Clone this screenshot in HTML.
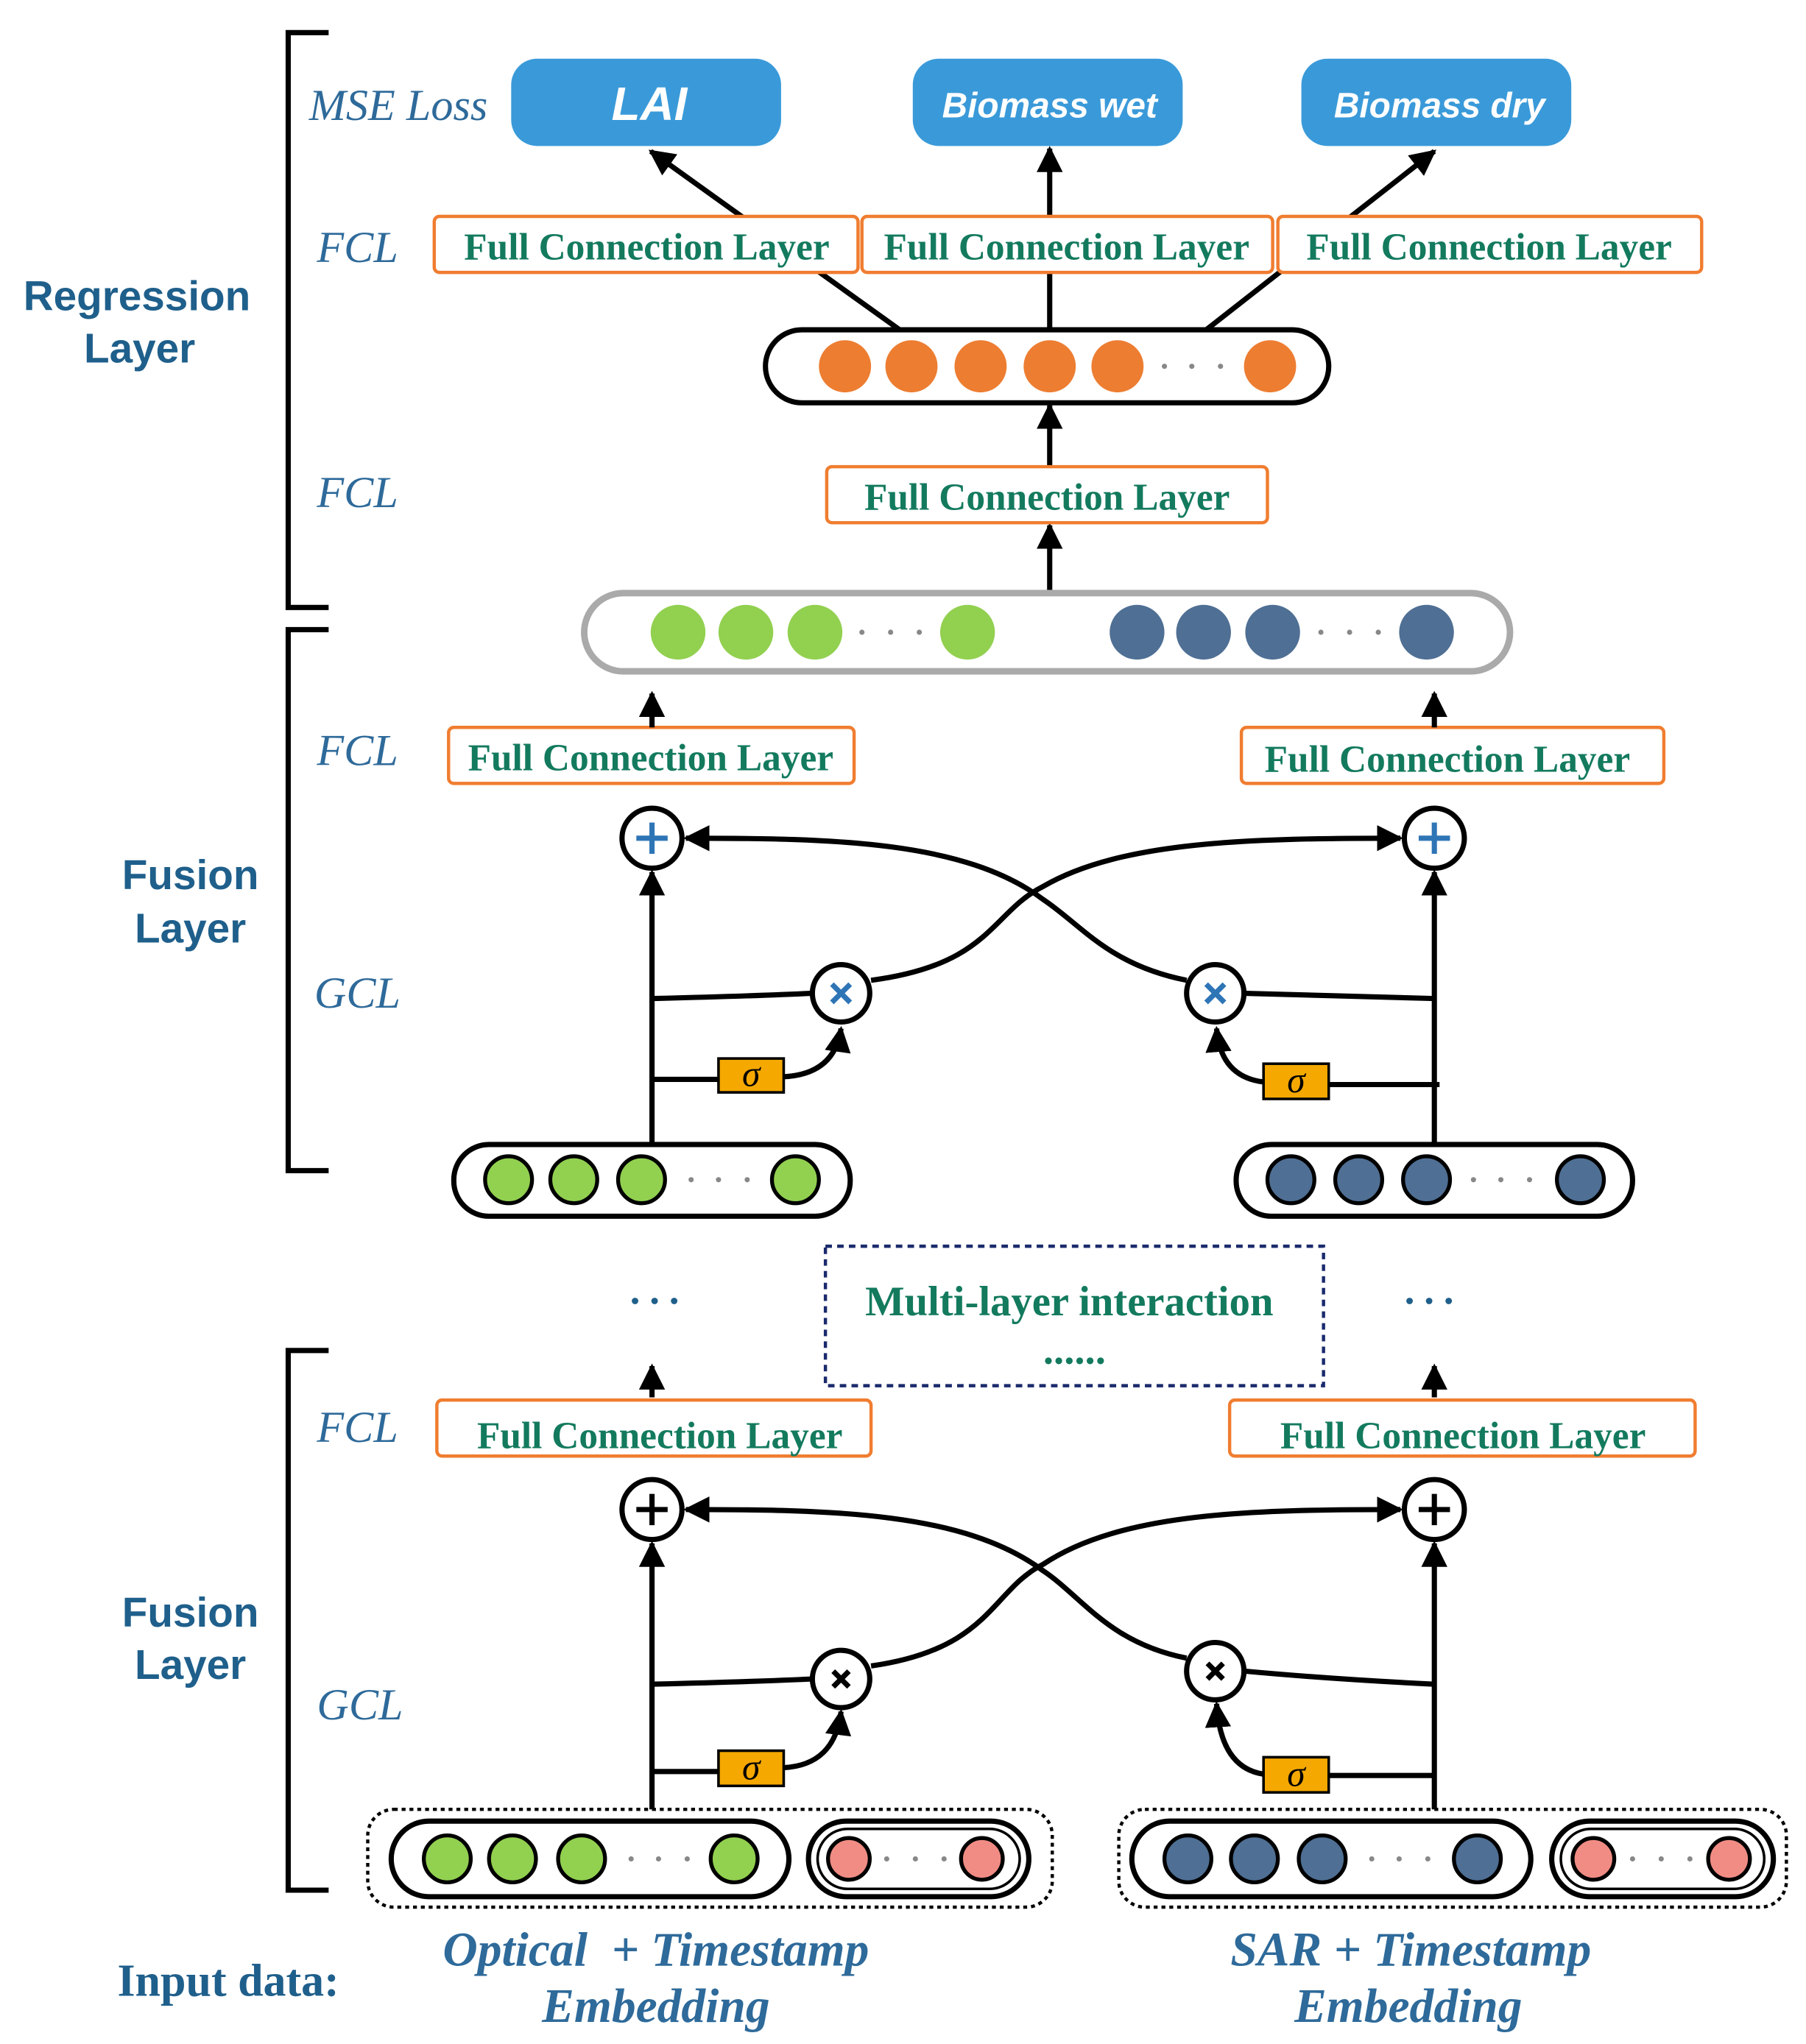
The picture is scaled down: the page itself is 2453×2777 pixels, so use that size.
<!DOCTYPE html>
<html><head><meta charset="utf-8"><style>html,body{margin:0;padding:0;background:#fff}svg{display:block}</style></head>
<body>
<svg width="2453" height="2777" viewBox="0 0 1385 1568" xmlns="http://www.w3.org/2000/svg">
<defs>
<marker id="ah" viewBox="0 0 10 10" refX="9" refY="5" markerWidth="5" markerHeight="5" orient="auto-start-reverse"><path d="M0,0 L10,5 L0,10 z" fill="#000"/></marker>
</defs>
<rect width="1385" height="1568" fill="#fff"/>
<g fill="none" stroke="#000" stroke-width="4">
<path d="M252,25 H221 V466 H252"/>
<path d="M252,483 H221 V898 H252"/>
<path d="M252,1036 H221 V1450 H252"/>
</g>
<g font-family="Liberation Sans, sans-serif" font-weight="bold" font-size="32" fill="#1f5f8b" text-anchor="middle">
<text x="105" y="238">Regression</text><text x="107" y="278">Layer</text>
<text x="146" y="682">Fusion</text><text x="146" y="723">Layer</text>
<text x="146" y="1248">Fusion</text><text x="146" y="1288">Layer</text>
</g>
<g font-family="Liberation Serif, serif" font-style="italic" font-size="34" fill="#2e6a9a">
<text x="237" y="92">MSE Loss</text>
<text x="243" y="201">FCL</text><text x="243" y="389">FCL</text><text x="243" y="587">FCL</text>
<text x="241" y="773">GCL</text><text x="243" y="1106">FCL</text><text x="243" y="1319">GCL</text>
</g>
<g stroke="#000" stroke-width="4" fill="none">
<line x1="690" y1="253" x2="499" y2="116" marker-end="url(#ah)"/>
<line x1="805" y1="253" x2="805" y2="114" marker-end="url(#ah)"/>
<line x1="925" y1="253" x2="1100" y2="116" marker-end="url(#ah)"/>
<line x1="805" y1="358" x2="805" y2="311" marker-end="url(#ah)"/>
<line x1="805" y1="455" x2="805" y2="403" marker-end="url(#ah)"/>
</g>
<g fill="#3a9ad9">
<rect x="392" y="45" width="207" height="67" rx="20"/>
<rect x="700" y="45" width="207" height="67" rx="20"/>
<rect x="998" y="45" width="207" height="67" rx="20"/>
</g>
<g font-family="Liberation Sans, sans-serif" font-weight="bold" font-style="italic" fill="#fff" text-anchor="middle">
<text x="498" y="92" font-size="36">LAI</text>
<text x="805" y="90" font-size="27">Biomass wet</text>
<text x="1104" y="90" font-size="27">Biomass dry</text>
</g>
<g fill="#fff" stroke="#f07d30" stroke-width="2.5">
<rect x="333" y="166" width="325" height="43" rx="4"/>
<rect x="661" y="166" width="315" height="43" rx="4"/>
<rect x="980" y="166" width="325" height="43" rx="4"/>
<rect x="634" y="358" width="338" height="43" rx="4"/>
<rect x="344" y="558" width="311" height="43" rx="4"/>
<rect x="952" y="558" width="324" height="43" rx="4"/>
<rect x="335" y="1074" width="333" height="43" rx="4"/>
<rect x="943" y="1074" width="357" height="43" rx="4"/>
</g>
<g font-family="Liberation Serif, serif" font-weight="bold" font-size="29" fill="#137a5e" text-anchor="middle">
<text x="496" y="199">Full Connection Layer</text>
<text x="818" y="199">Full Connection Layer</text>
<text x="1142" y="199">Full Connection Layer</text>
<text x="803" y="391">Full Connection Layer</text>
<text x="499" y="591">Full Connection Layer</text>
<text x="1110" y="592">Full Connection Layer</text>
<text x="506" y="1111">Full Connection Layer</text>
<text x="1122" y="1111">Full Connection Layer</text>
</g>
<rect x="587" y="253" width="432" height="56" rx="28" fill="#fff" stroke="#000" stroke-width="4"/>
<g fill="#ed7d31"><circle cx="648" cy="281" r="20"/><circle cx="699" cy="281" r="20"/><circle cx="752" cy="281" r="20"/><circle cx="805" cy="281" r="20"/><circle cx="857" cy="281" r="20"/><circle cx="974" cy="281" r="20"/></g>
<g fill="#888"><circle cx="893" cy="281" r="2"/><circle cx="914" cy="281" r="2"/><circle cx="936" cy="281" r="2"/></g>
<rect x="448" y="455" width="710" height="60" rx="30" fill="#fff" stroke="#aaa" stroke-width="5"/>
<g fill="#92d050"><circle cx="520" cy="485" r="21"/><circle cx="572" cy="485" r="21"/><circle cx="625" cy="485" r="21"/><circle cx="742" cy="485" r="21"/></g>
<g fill="#4f6f94"><circle cx="872" cy="485" r="21"/><circle cx="923" cy="485" r="21"/><circle cx="976" cy="485" r="21"/><circle cx="1094" cy="485" r="21"/></g>
<g fill="#888"><circle cx="661" cy="485" r="2"/><circle cx="683" cy="485" r="2"/><circle cx="705" cy="485" r="2"/><circle cx="1013" cy="485" r="2"/><circle cx="1035" cy="485" r="2"/><circle cx="1057" cy="485" r="2"/></g>

<g stroke="#000" stroke-width="4" fill="none">
<line x1="500" y1="558" x2="500" y2="532" marker-end="url(#ah)"/>
<line x1="1100" y1="558" x2="1100" y2="532" marker-end="url(#ah)"/>
<line x1="500" y1="878" x2="500" y2="669" marker-end="url(#ah)"/>
<line x1="1100" y1="878" x2="1100" y2="669" marker-end="url(#ah)"/>
<path d="M500,766 Q580,764 622,762"/>
<path d="M1100,766 Q1020,764 955,762"/>
<path d="M500,828 H551"/><path d="M1104,832 H1019"/>
<path d="M601,826 Q640,824 645,789" marker-end="url(#ah)"/>
<path d="M969,830 Q936,826 933,789" marker-end="url(#ah)"/>
<path d="M668,752 C760,740 760,700 800,680 C860,645 960,643 1074,643" marker-end="url(#ah)"/>
<path d="M910,752 C850,740 830,710 800,690 C740,645 640,643 526,643" marker-end="url(#ah)"/>
</g>
<g stroke="#000" stroke-width="4" fill="#fff">
<circle cx="500" cy="643" r="23"/><circle cx="1100" cy="643" r="23"/>
<circle cx="645" cy="762" r="22"/><circle cx="932" cy="762" r="22"/>
</g>
<g stroke="#2e75b6" stroke-width="4">
<path d="M500,631 V655 M488,643 H512"/><path d="M1100,631 V655 M1088,643 H1112"/>
<path d="M638,755 L652,769 M652,755 L638,769"/><path d="M925,755 L939,769 M939,755 L925,769"/>
</g>
<g fill="#f5a800" stroke="#000" stroke-width="2"><rect x="551" y="812" width="50" height="26"/><rect x="969" y="816" width="50" height="27"/></g>
<g font-family="Liberation Serif, serif" font-style="italic" font-size="28" text-anchor="middle"><text x="576" y="833">σ</text><text x="994" y="838">σ</text></g>
<g fill="#fff" stroke="#000" stroke-width="4"><rect x="348" y="878" width="304" height="55" rx="27"/><rect x="948" y="878" width="304" height="55" rx="27"/></g>
<g stroke="#000" stroke-width="3"><g fill="#92d050"><circle cx="390" cy="905" r="18"/><circle cx="440" cy="905" r="18"/><circle cx="492" cy="905" r="18"/><circle cx="610" cy="905" r="18"/></g>
<g fill="#4f6f94"><circle cx="990" cy="905" r="18"/><circle cx="1042" cy="905" r="18"/><circle cx="1094" cy="905" r="18"/><circle cx="1212" cy="905" r="18"/></g></g>
<g fill="#888"><circle cx="530" cy="905" r="2"/><circle cx="551" cy="905" r="2"/><circle cx="573" cy="905" r="2"/><circle cx="1130" cy="905" r="2"/><circle cx="1151" cy="905" r="2"/><circle cx="1173" cy="905" r="2"/></g>
<g fill="#1f5f8b"><circle cx="487" cy="998" r="2.5"/><circle cx="502" cy="998" r="2.5"/><circle cx="517" cy="998" r="2.5"/><circle cx="1081" cy="998" r="2.5"/><circle cx="1096" cy="998" r="2.5"/><circle cx="1111" cy="998" r="2.5"/></g>
<rect x="633" y="956" width="382" height="107" fill="none" stroke="#1a2a6c" stroke-width="2.5" stroke-dasharray="5,4"/>
<g font-family="Liberation Serif, serif" font-weight="bold" font-size="32" fill="#137a5e" text-anchor="middle"><text x="820" y="1009">Multi-layer interaction</text><text x="824" y="1046">......</text></g>
<g stroke="#000" stroke-width="4" fill="none">
<line x1="500" y1="1072" x2="500" y2="1048" marker-end="url(#ah)"/>
<line x1="1100" y1="1072" x2="1100" y2="1048" marker-end="url(#ah)"/>
<line x1="500" y1="1388" x2="500" y2="1184" marker-end="url(#ah)"/>
<line x1="1100" y1="1388" x2="1100" y2="1184" marker-end="url(#ah)"/>
<path d="M500,1292 Q580,1290 622,1288"/>
<path d="M1100,1292 Q1020,1288 955,1282"/>
<path d="M500,1359 H551"/><path d="M1100,1362 H1019"/>
<path d="M601,1356 Q640,1354 645,1313" marker-end="url(#ah)"/>
<path d="M969,1361 Q936,1356 933,1307" marker-end="url(#ah)"/>
<path d="M668,1278 C760,1265 760,1220 800,1200 C860,1160 960,1158 1074,1158" marker-end="url(#ah)"/>
<path d="M910,1272 C850,1260 830,1225 800,1205 C740,1160 640,1158 526,1158" marker-end="url(#ah)"/>
</g>
<g stroke="#000" stroke-width="4" fill="#fff">
<circle cx="500" cy="1158" r="23"/><circle cx="1100" cy="1158" r="23"/>
<circle cx="645" cy="1288" r="22"/><circle cx="932" cy="1282" r="22"/>
</g>
<g stroke="#000" stroke-width="4">
<path d="M500,1146 V1170 M488,1158 H512"/><path d="M1100,1146 V1170 M1088,1158 H1112"/>
<path d="M639,1282 L651,1294 M651,1282 L639,1294"/><path d="M926,1276 L938,1288 M938,1276 L926,1288"/>
</g>
<g fill="#f5a800" stroke="#000" stroke-width="2"><rect x="551" y="1343" width="50" height="27"/><rect x="969" y="1348" width="50" height="27"/></g>
<g font-family="Liberation Serif, serif" font-style="italic" font-size="28" text-anchor="middle"><text x="576" y="1365">σ</text><text x="994" y="1370">σ</text></g>
<g fill="none" stroke="#000" stroke-width="2.5" stroke-dasharray="3,3"><rect x="282" y="1388" width="525" height="75" rx="20"/><rect x="858" y="1388" width="512" height="75" rx="20"/></g>
<g fill="#fff" stroke="#000" stroke-width="4">
<rect x="300" y="1397" width="305" height="58" rx="29"/><rect x="620" y="1397" width="169" height="58" rx="29"/>
<rect x="868" y="1397" width="306" height="58" rx="29"/><rect x="1190" y="1397" width="170" height="58" rx="29"/>
</g>
<g fill="none" stroke="#000" stroke-width="2"><rect x="627" y="1403" width="155" height="46" rx="23"/><rect x="1197" y="1403" width="156" height="46" rx="23"/></g>
<g stroke="#000" stroke-width="3">
<g fill="#92d050"><circle cx="343" cy="1426" r="18"/><circle cx="393" cy="1426" r="18"/><circle cx="446" cy="1426" r="18"/><circle cx="563" cy="1426" r="18"/></g>
<g fill="#4f6f94"><circle cx="911" cy="1426" r="18"/><circle cx="962" cy="1426" r="18"/><circle cx="1014" cy="1426" r="18"/><circle cx="1133" cy="1426" r="18"/></g>
<g fill="#f08c84"><circle cx="651" cy="1426" r="16"/><circle cx="753" cy="1426" r="16"/><circle cx="1222" cy="1426" r="16"/><circle cx="1326" cy="1426" r="16"/></g>
</g>
<g fill="#888"><circle cx="484" cy="1426" r="2"/><circle cx="505" cy="1426" r="2"/><circle cx="527" cy="1426" r="2"/><circle cx="1052" cy="1426" r="2"/><circle cx="1073" cy="1426" r="2"/><circle cx="1095" cy="1426" r="2"/><circle cx="680" cy="1426" r="2"/><circle cx="702" cy="1426" r="2"/><circle cx="724" cy="1426" r="2"/><circle cx="1252" cy="1426" r="2"/><circle cx="1274" cy="1426" r="2"/><circle cx="1296" cy="1426" r="2"/></g>
<text x="90" y="1531" font-family="Liberation Serif, serif" font-weight="bold" font-size="35" fill="#1f5f8b">Input data:</text>
<g font-family="Liberation Serif, serif" font-weight="bold" font-style="italic" font-size="37" fill="#2e6a9a" text-anchor="middle">
<text x="503" y="1508" xml:space="preserve">Optical  + Timestamp</text><text x="503" y="1551">Embedding</text>
<text x="1082" y="1508">SAR + Timestamp</text><text x="1080" y="1551">Embedding</text>
</g>
</svg>
</body></html>
